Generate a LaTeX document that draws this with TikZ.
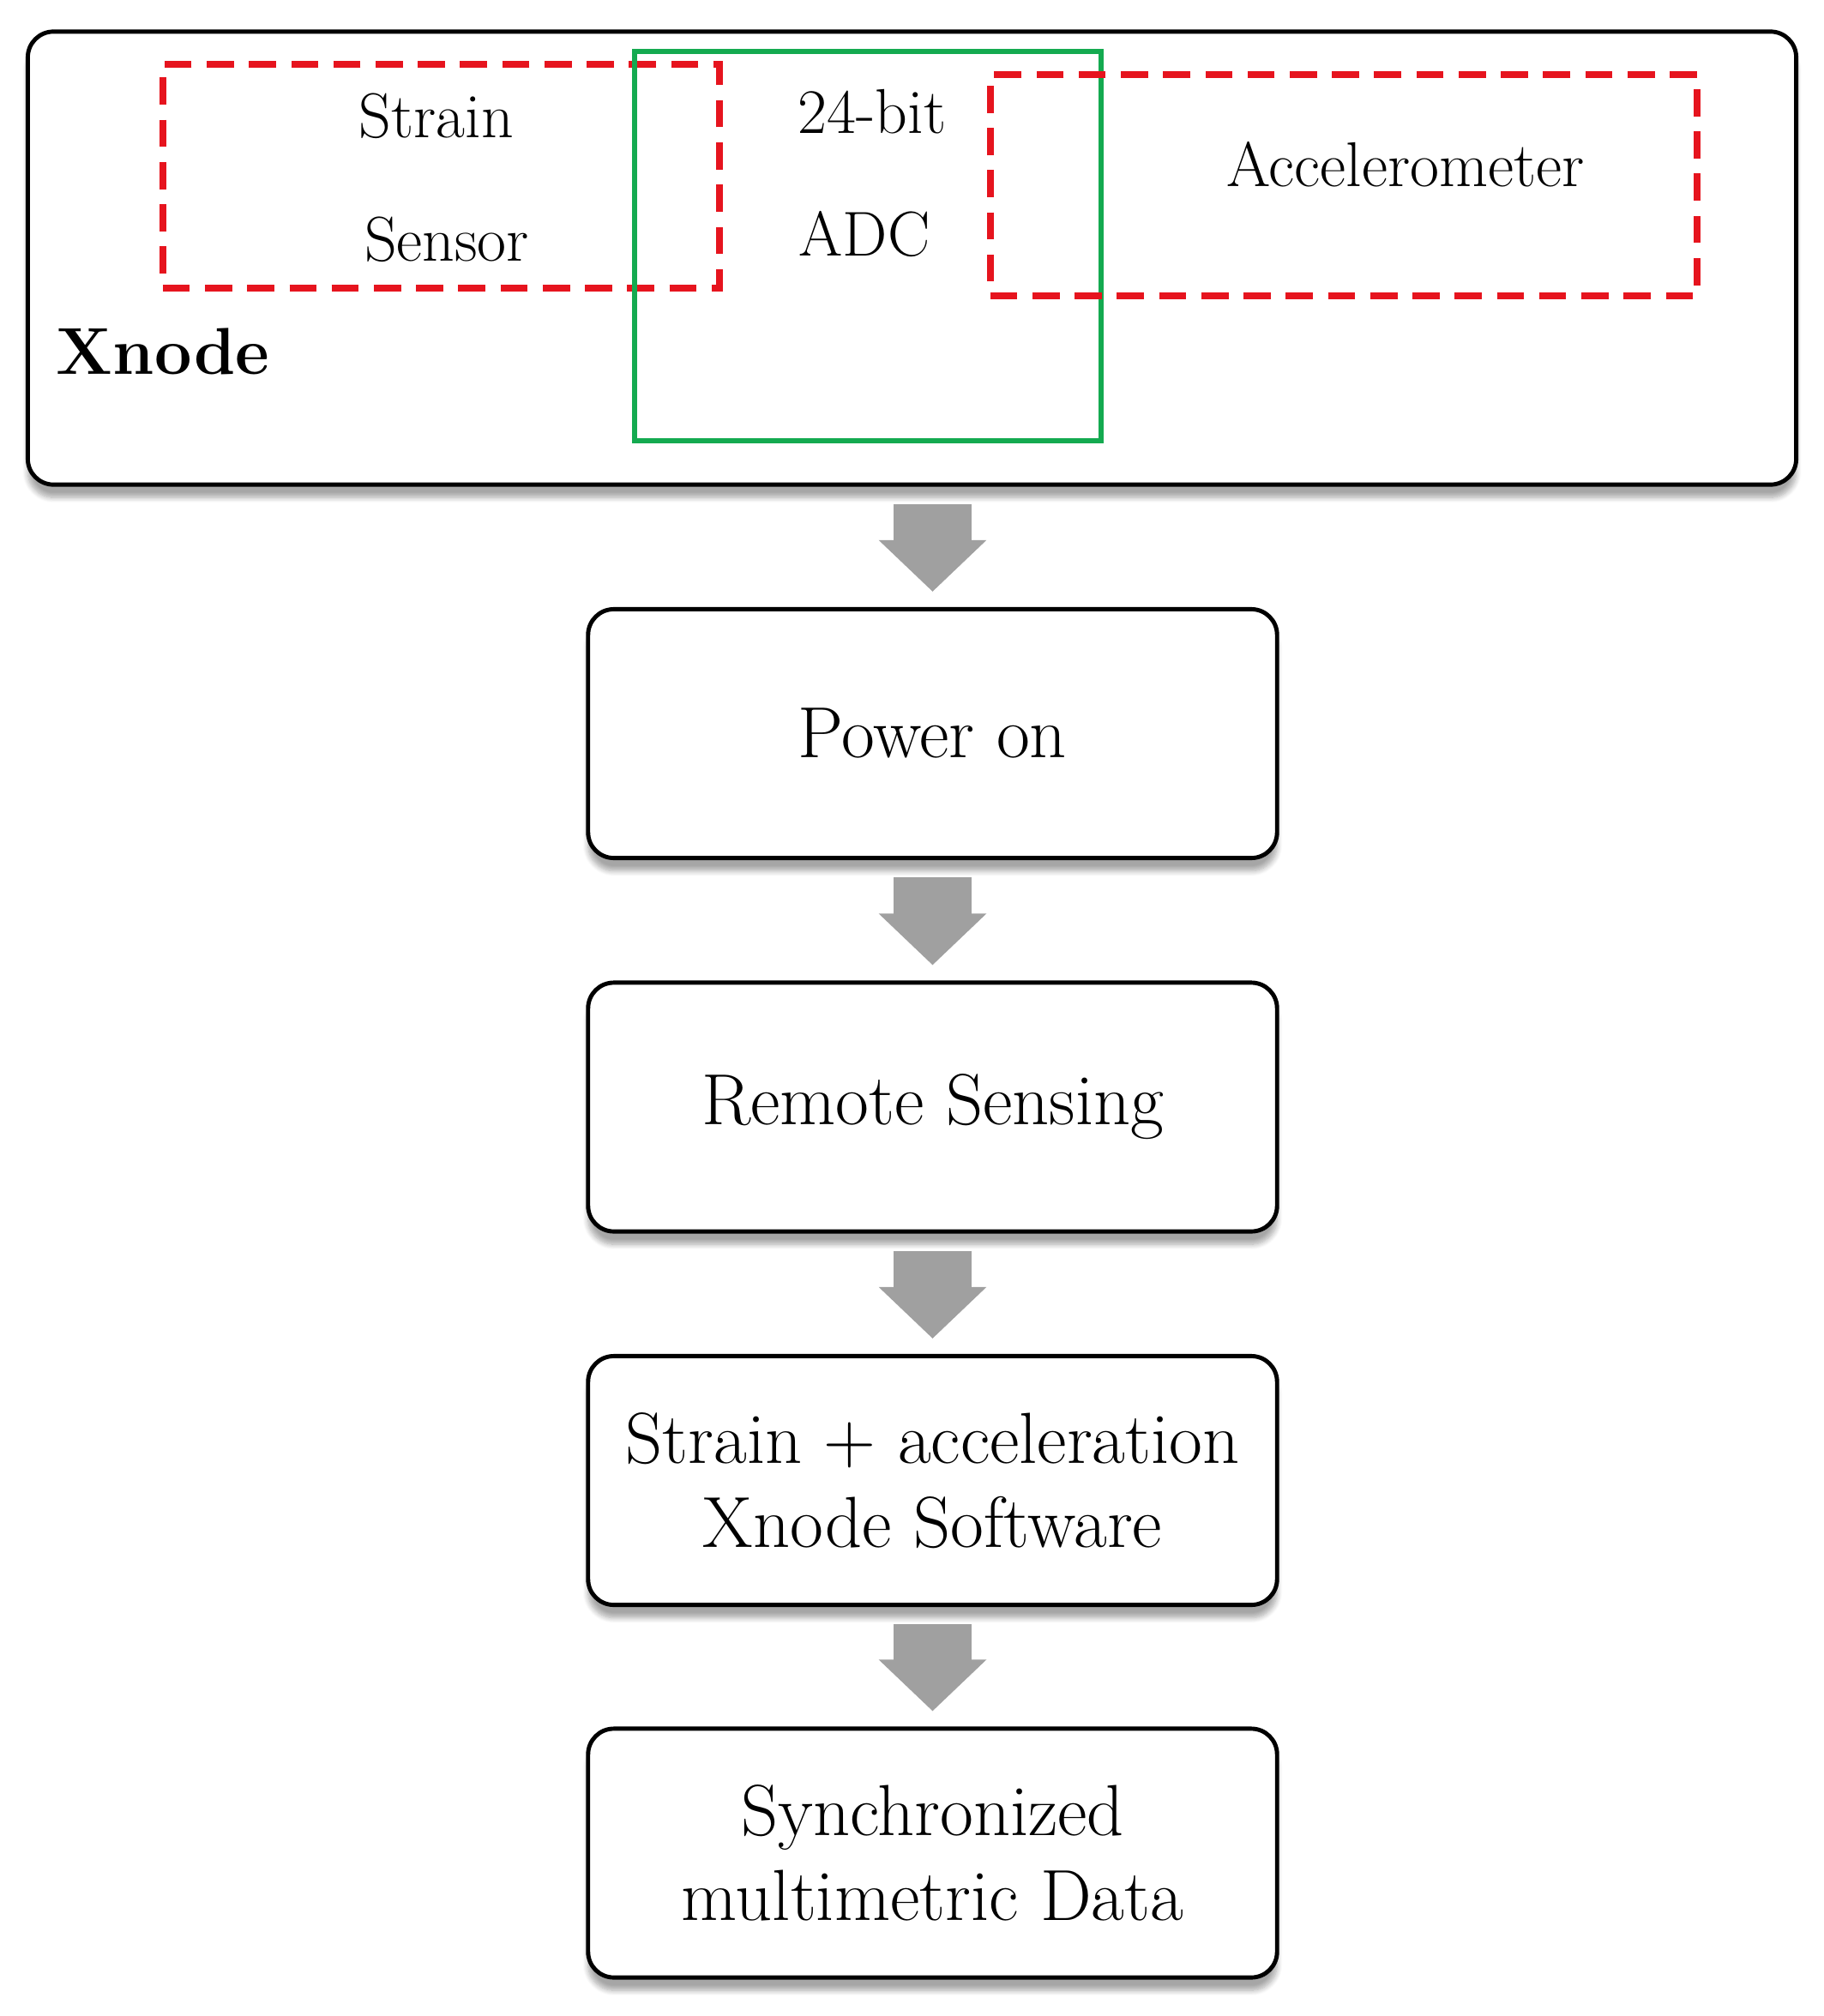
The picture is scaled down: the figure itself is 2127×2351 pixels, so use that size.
\documentclass[tikz,border=0pt]{standalone}
\usetikzlibrary{arrows.meta,shadows.blur}
\begin{document}
\begin{tikzpicture}[x=0.01cm,y=-0.01cm,
  box/.style={draw=black,line width=1.4pt,rounded corners=0.3cm,fill=white,blur shadow={shadow blur steps=8,shadow xshift=0pt,shadow yshift=-0.15cm,shadow opacity=35}},
  redbox/.style={draw={rgb,255:red,230;green,20;blue,30},line width=2.2pt,dash pattern=on 9pt off 5pt},
  grnbox/.style={draw={rgb,255:red,20;green,170;blue,80},line width=1.8pt},
  stepbox/.style={box,minimum width=8.03cm,minimum height=2.9cm,align=center,font=\fontsize{24}{28}\selectfont,inner sep=0pt},
  lbl/.style={font=\fontsize{21}{25}\selectfont,inner sep=0pt},
  flow/.style={draw={rgb,255:red,160;green,160;blue,160},line width=0.9cm,-{Triangle[width=1.22cm,length=0.6cm]},shorten <=0.2cm,shorten >=0.18cm}]
\useasboundingbox (0,0) rectangle (2127,2351);
\node[box,minimum width=20.61cm,minimum height=5.28cm,inner sep=0pt] (xn) at (1063.5,301) {};
\node[redbox,minimum width=6.49cm,minimum height=2.61cm,inner sep=0pt] (ss) at (514.5,205.5) {};
\node[grnbox,minimum width=5.44cm,minimum height=4.54cm,inner sep=0pt] (adc) at (1012,287) {};
\node[redbox,minimum width=8.24cm,minimum height=2.58cm,inner sep=0pt] (acc) at (1567,216) {};
\node[lbl] (t1) at (509,135) {Strain};
\node[lbl] (t2) at (521,279) {Sensor};
\node[lbl] (t3) at (1017,130) {24-bit};
\node[lbl] (t4) at (1008,273) {ADC};
\node[lbl] (t5) at (1639,192) {Accelerometer};
\node[lbl,font=\fontsize{22}{26}\selectfont\bfseries] (t6) at (190,410) {Xnode};
\node[stepbox] (b1) at (1087.5,855.5) {Power on};
\node[stepbox] (b2) at (1087.5,1291) {Remote Sensing};
\node[stepbox] (b3) at (1087.5,1726.5) {Strain + acceleration\\Xnode Software};
\node[stepbox] (b4) at (1087.5,2161) {Synchronized\\multimetric Data};
\draw[flow] (xn.south -| b1.north) -- (b1.north);
\draw[flow] (b1) -- (b2);
\draw[flow] (b2) -- (b3);
\draw[flow] (b3) -- (b4);
\end{tikzpicture}
\end{document}
